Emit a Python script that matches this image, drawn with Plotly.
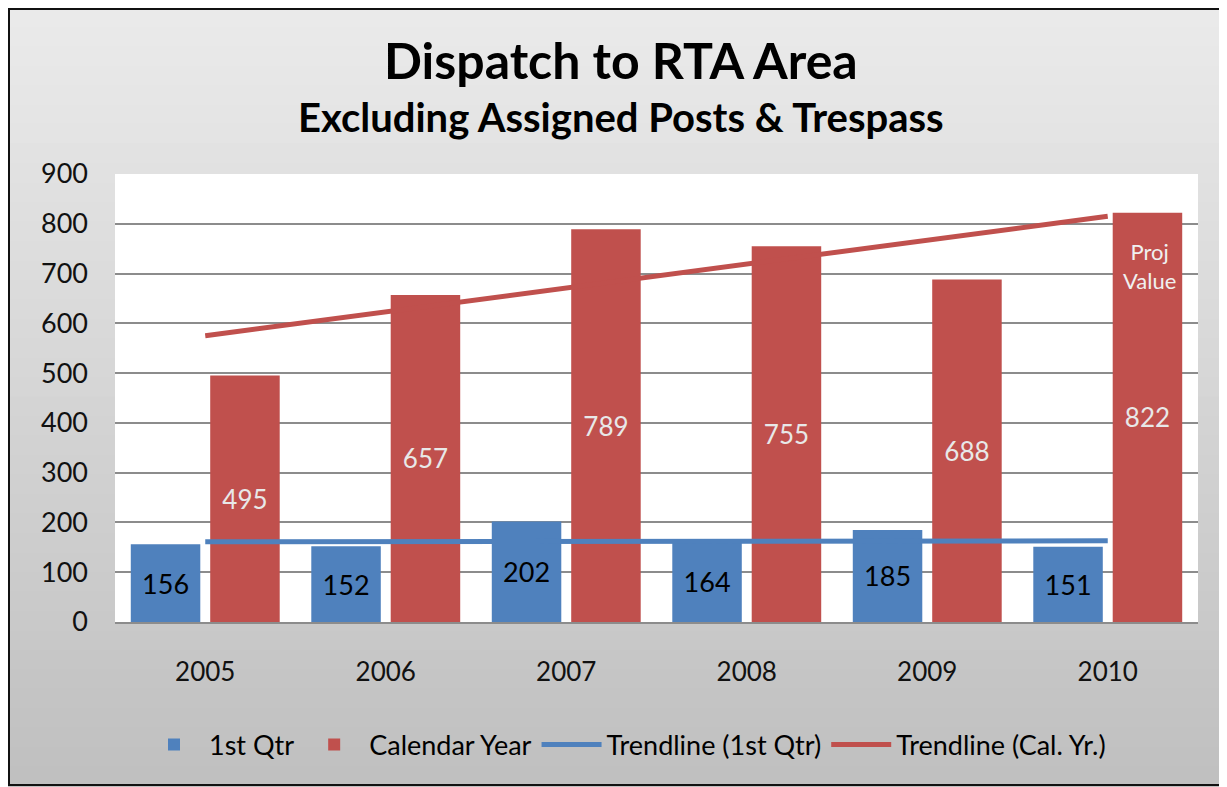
import plotly.graph_objects as go

years = ["2005", "2006", "2007", "2008", "2009", "2010"]
first_qtr = [156, 152, 202, 164, 185, 151]
calendar_year = [495, 657, 789, 755, 688, 822]
# trendline end points (2005 -> 2010)
trend_years = ["2005", "2010"]
trend_qtr = [161, 163]
trend_cal = [575, 815]
y_ticks = [0, 100, 200, 300, 400, 500, 600, 700, 800, 900]

BLUE = "#4f81bd"
RED = "#c0504d"
FONT = "Lato"

# page body has an 8px margin; figure coordinates are image coordinates minus 8
OFF = 8
W, H = 1227 - OFF, 787 - OFF
L, R, T, B = 115 - OFF, 1198 - OFF, 174 - OFF, 622 - OFF
PW, PH = R - L, B - T


def px(x_img):
    return (x_img - OFF - L) / PW


def py(y_img):
    return (B - (y_img - OFF)) / PH


fig = go.Figure()
fig.add_trace(go.Bar(
    x=years, y=first_qtr, name="1st Qtr", marker=dict(color=BLUE, line=dict(width=0)),
    text=[str(v) for v in first_qtr], textposition="inside", insidetextanchor="middle",
    textfont=dict(family=FONT, size=27, color="#000000"), textangle=0,
))
fig.add_trace(go.Bar(
    x=years, y=calendar_year, name="Calendar Year", marker=dict(color=RED, line=dict(width=0)),
    text=[str(v) for v in calendar_year], textposition="inside", insidetextanchor="middle",
    textfont=dict(family=FONT, size=26, color="#e8e8e8"), textangle=0,
))
fig.add_trace(go.Scatter(
    x=trend_years, y=trend_qtr, mode="lines", name="Trendline (1st Qtr)",
    line=dict(color=BLUE, width=5),
))
fig.add_trace(go.Scatter(
    x=trend_years, y=trend_cal, mode="lines", name="Trendline (Cal. Yr.)",
    line=dict(color=RED, width=5),
))

# vertical grey gradient background (paper)
shapes = []
n = 40
top = (234, 234, 234)
bot = (192, 192, 192)
for i in range(n):
    t = i / (n - 1)
    c = tuple(round(top[k] + (bot[k] - top[k]) * t) for k in range(3))
    y1 = OFF + i * H / n - 1
    y0 = OFF + (i + 1) * H / n + 1
    shapes.append(dict(type="rect", xref="paper", yref="paper", layer="below",
                       x0=px(0), x1=px(1240), y0=py(y0), y1=py(y1),
                       fillcolor="rgb(%d,%d,%d)" % c, line=dict(width=0)))
# white plot area
shapes.append(dict(type="rect", xref="paper", yref="paper", layer="below",
                   x0=0, x1=1, y0=0, y1=1, fillcolor="white", line=dict(width=0)))
# outer frame
shapes.append(dict(type="rect", xref="paper", yref="paper", layer="above",
                   x0=px(9), x1=px(1240), y0=py(785), y1=py(9),
                   line=dict(color="#111111", width=2), fillcolor="rgba(0,0,0,0)"))

fig.update_layout(
    width=W, height=H,
    margin=dict(l=L, r=W - R, t=T, b=H - B),
    paper_bgcolor="#d8d8d8",
    plot_bgcolor="rgba(0,0,0,0)",
    barmode="group", bargap=0.12, bargroupgap=0.125,
    font=dict(family=FONT, color="#000000"),
    shapes=shapes,
    showlegend=True,
    legend=dict(orientation="h", xref="container", x=(625 - OFF) / W, xanchor="center",
                yref="container", y=1 - (745 - OFF) / H, yanchor="middle",
                font=dict(family=FONT, size=27, color="#000000"),
                bgcolor="rgba(0,0,0,0)", itemwidth=60, traceorder="normal"),
    annotations=[
        dict(text="<b>Dispatch to RTA Area</b>", xref="paper", yref="paper",
             x=px(621), y=py(60), xanchor="center", yanchor="middle", showarrow=False,
             font=dict(family=FONT, size=50, color="#000000")),
        dict(text="<b>Excluding Assigned Posts &amp; Trespass</b>", xref="paper", yref="paper",
             x=px(621), y=py(117), xanchor="center", yanchor="middle", showarrow=False,
             font=dict(family=FONT, size=40, color="#000000")),
        dict(text="Proj<br>Value", x=years.index("2010"), y=715, xref="x", yref="y", xshift=42,
             showarrow=False, font=dict(family=FONT, size=22, color="#f0f0f0"), align="center"),
    ],
)
fig.update_xaxes(type="category", range=[-0.5, len(years) - 0.5], showgrid=False, showline=True,
                 linecolor="#8c8c8c", linewidth=2,
                 ticks="", tickfont=dict(family=FONT, size=26, color="#111111"),
                 ticklabelstandoff=26, zeroline=False)
fig.update_yaxes(range=[0, 900], tickvals=y_ticks, showgrid=True, gridcolor="#8c8c8c", gridwidth=2,
                 zeroline=False, showline=False, ticks="",
                 tickfont=dict(family=FONT, size=27, color="#111111"), ticklabelstandoff=26)

fig.write_html("out.html")
